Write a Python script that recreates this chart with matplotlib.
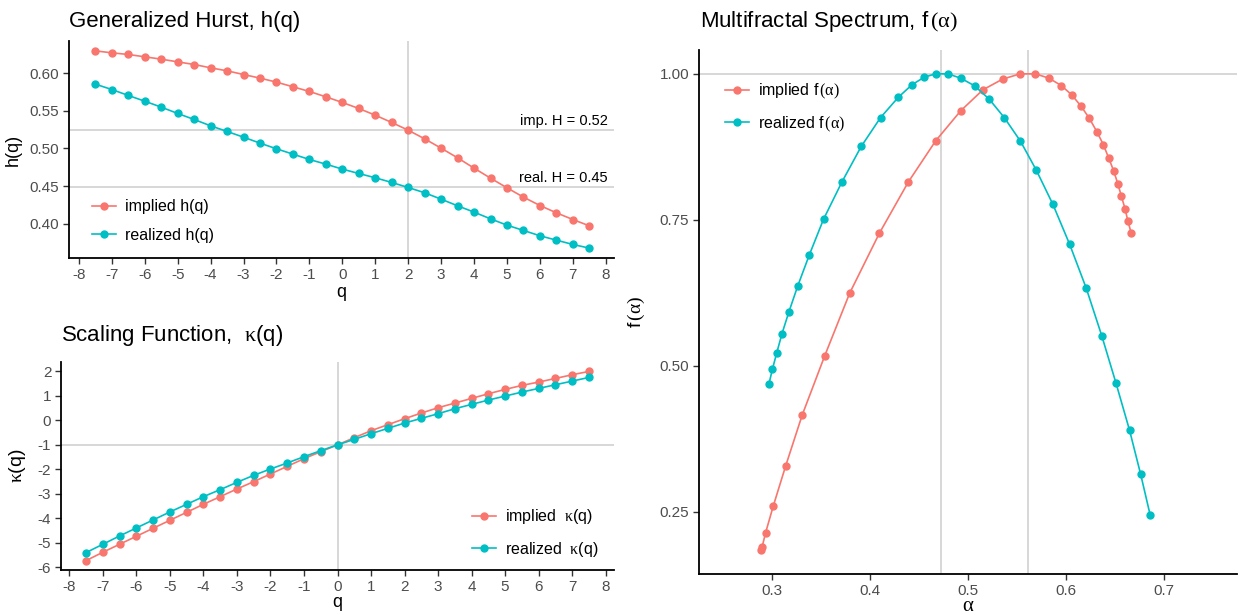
import numpy as np
import matplotlib
matplotlib.use("Agg")
import matplotlib.pyplot as plt

plt.rcParams['font.family'] = ['Liberation Sans', 'DejaVu Sans']
plt.rcParams['axes.unicode_minus'] = False
# upright serif Greek, like R plotmath's symbol font
plt.rcParams['mathtext.fontset'] = 'custom'
plt.rcParams['mathtext.rm'] = 'Liberation Serif'
plt.rcParams['mathtext.it'] = 'Liberation Serif'
plt.rcParams['mathtext.bf'] = 'Liberation Serif:bold'

# q grid shared by h(q) and kappa(q)
q = [-7.5, -7, -6.5, -6, -5.5, -5, -4.5, -4, -3.5, -3, -2.5, -2, -1.5, -1, -0.5,
     0, 0.5, 1, 1.5, 2, 2.5, 3, 3.5, 4, 4.5, 5, 5.5, 6, 6.5, 7, 7.5]

h_implied = [0.6296, 0.6270, 0.6248, 0.6217, 0.6186, 0.6150, 0.6115, 0.6071, 0.6031,
             0.5982, 0.5934, 0.5881, 0.5819, 0.5757, 0.5686, 0.5611, 0.5531, 0.5442,
             0.5345, 0.5243, 0.5128, 0.5004, 0.4876, 0.4739, 0.4606, 0.4478, 0.4354,
             0.4243, 0.4146, 0.4057, 0.3973]
h_realized = [0.5854, 0.5783, 0.5704, 0.5628, 0.5549, 0.5465, 0.5385, 0.5301, 0.5226,
              0.5150, 0.5071, 0.4996, 0.4925, 0.4854, 0.4792, 0.4726, 0.4668, 0.4611,
              0.4549, 0.4482, 0.4412, 0.4327, 0.4239, 0.4155, 0.4066, 0.3982, 0.3912,
              0.3841, 0.3783, 0.3726, 0.3677]

k_implied = [-5.728, -5.388, -5.061, -4.735, -4.408, -4.082, -3.755, -3.429, -3.116,
             -2.803, -2.503, -2.190, -1.878, -1.565, -1.279, -1.0, -0.707, -0.422,
             -0.177, 0.068, 0.299, 0.517, 0.707, 0.898, 1.088, 1.265, 1.429, 1.565,
             1.714, 1.864, 2.0]
k_realized = [-5.401, -5.061, -4.721, -4.395, -4.068, -3.741, -3.429, -3.116, -2.830,
              -2.531, -2.245, -1.986, -1.741, -1.483, -1.238, -1.0, -0.776, -0.544,
              -0.327, -0.109, 0.082, 0.272, 0.476, 0.653, 0.830, 0.993, 1.156, 1.306,
              1.456, 1.605, 1.755]

# multifractal spectrum (sorted by alpha)
a_implied = [0.2887, 0.2895, 0.2931, 0.3008, 0.3134, 0.3304, 0.3534, 0.3789, 0.4093,
             0.4389, 0.4668, 0.4923, 0.5150, 0.5352, 0.5532, 0.5686, 0.5825, 0.5950,
             0.6058, 0.6153, 0.6238, 0.6314, 0.6380, 0.6435, 0.6485, 0.6528, 0.6565,
             0.6602, 0.6630, 0.6664]
f_implied = [0.1845, 0.1902, 0.2147, 0.2597, 0.3280, 0.4157, 0.5171, 0.6244, 0.7272,
             0.8150, 0.8853, 0.9366, 0.9726, 0.9910, 1.0, 1.0, 0.9926, 0.9800,
             0.9640, 0.9446, 0.9237, 0.9011, 0.8790, 0.8561, 0.8343, 0.8121, 0.7905,
             0.7692, 0.7489, 0.7282]
a_realized = [0.2964, 0.3000, 0.3045, 0.3097, 0.3168, 0.3259, 0.3377, 0.3522, 0.3709,
              0.3907, 0.4105, 0.4287, 0.4425, 0.4551, 0.4668, 0.4793, 0.4923, 0.5065,
              0.5215, 0.5368, 0.5534, 0.5696, 0.5866, 0.6036, 0.6206, 0.6364, 0.6510,
              0.6648, 0.6761, 0.6858]
f_realized = [0.4687, 0.4943, 0.5228, 0.5547, 0.5923, 0.6370, 0.6900, 0.7510, 0.8145,
              0.8756, 0.9252, 0.9600, 0.9812, 0.9943, 1.0, 1.0, 0.9926, 0.9795,
              0.9566, 0.9252, 0.8847, 0.8350, 0.7763, 0.7083, 0.6330, 0.5518, 0.4704,
              0.3900, 0.3150, 0.2454]

RED = '#F8766D'
CYAN = '#00BFC4'
REF = '#D4D4D4'
TICK_COL = '#4D4D4D'

W, H = 1238, 615
fig = plt.figure(figsize=(W / 100, H / 100), dpi=100)


def px_axes(x0, y0, x1, y1):
    return fig.add_axes([x0 / W, 1 - y1 / H, (x1 - x0) / W, (y1 - y0) / H])


def style(ax):
    for s in ['top', 'right']:
        ax.spines[s].set_visible(False)
    for s in ['left', 'bottom']:
        ax.spines[s].set_linewidth(1.3)
        ax.spines[s].set_color('black')
    ax.tick_params(axis='both', labelsize=11, labelcolor=TICK_COL, color='#333333',
                   length=4, width=1, pad=3)


def series(ax, x, y, color, label):
    ax.plot(x, y, color=color, lw=1.2, marker='o', ms=5.0, mec=color, mfc=color,
            label=label, zorder=3)


def legend(ax, anchor):
    ax.legend(loc='center left', bbox_to_anchor=anchor, frameon=False, fontsize=11.5,
              borderpad=0, borderaxespad=0, handlelength=1.5, handletextpad=0.6,
              labelspacing=0.85)


# --- Generalized Hurst ---
ax1 = px_axes(69, 41, 614, 258)
style(ax1)
ax1.axvline(2, color=REF, lw=1.3, zorder=1)
H_imp = h_implied[q.index(2)]
H_real = h_realized[q.index(2)]
ax1.axhline(H_imp, color=REF, lw=1.3, zorder=1)
ax1.axhline(H_real, color=REF, lw=1.3, zorder=1)
series(ax1, q, h_implied, RED, 'implied h(q)')
series(ax1, q, h_realized, CYAN, 'realized h(q)')
ax1.text(0.989, H_imp + 0.003, f'imp. H = {H_imp:.2f}', transform=ax1.get_yaxis_transform(),
         ha='right', va='bottom', fontsize=10.5)
ax1.text(0.989, H_real + 0.003, f'real. H = {H_real:.2f}', transform=ax1.get_yaxis_transform(),
         ha='right', va='bottom', fontsize=10.5)
ax1.set_xlim(-8.3, 8.25)
ax1.set_ylim(0.3546, 0.6427)
ax1.set_xticks(range(-8, 9))
ax1.set_yticks([0.40, 0.45, 0.50, 0.55, 0.60])
ax1.set_yticklabels(['0.40', '0.45', '0.50', '0.55', '0.60'])
ax1.set_xlabel('q', fontsize=13, labelpad=2)
ax1.set_ylabel('h(q)', fontsize=13, labelpad=6)
legend(ax1, (0.042, 0.171))
fig.text(69 / W, 1 - 21 / H, 'Generalized Hurst, h(q)', fontsize=16, va='center', ha='left')

# --- Scaling function ---
ax2 = px_axes(61, 362, 614, 570)
style(ax2)
ax2.axvline(0, color=REF, lw=1.3, zorder=1)
ax2.axhline(-1, color=REF, lw=1.3, zorder=1)
series(ax2, q, k_implied, RED, r'implied  $\kappa$(q)')
series(ax2, q, k_realized, CYAN, r'realized  $\kappa$(q)')
ax2.set_xlim(-8.25, 8.25)
ax2.set_ylim(-6.114, 2.386)
ax2.set_xticks(range(-8, 9))
ax2.set_yticks(range(-6, 3))
ax2.set_xlabel('q', fontsize=13, labelpad=0)
ax2.set_ylabel(r'$\kappa$(q)', fontsize=14, labelpad=7)
legend(ax2, (0.743, 0.177))
fig.text(61 / W, 1 - 335 / H, r'Scaling Function,  $\kappa$(q)', fontsize=16, va='center', ha='left')

# --- Multifractal spectrum ---
ax3 = px_axes(699, 50, 1237, 574)
style(ax3)
ax3.axvline(h_realized[q.index(0)], color=REF, lw=1.3, zorder=1)
ax3.axvline(h_implied[q.index(0)], color=REF, lw=1.3, zorder=1)
ax3.axhline(1.0, color=REF, lw=1.3, zorder=1)
series(ax3, a_implied, f_implied, RED, r'implied f$\,(\alpha)$')
series(ax3, a_realized, f_realized, CYAN, r'realized f$\,(\alpha)$')
ax3.set_xlim(0.225, 0.7746)
ax3.set_ylim(0.1437, 1.0408)
ax3.set_xticks([0.3, 0.4, 0.5, 0.6, 0.7])
ax3.set_xticklabels(['0.3', '0.4', '0.5', '0.6', '0.7'])
ax3.set_yticks([0.25, 0.50, 0.75, 1.00])
ax3.set_yticklabels(['0.25', '0.50', '0.75', '1.00'])
ax3.set_xlabel(r'$\alpha$', fontsize=15, labelpad=-1)
ax3.set_ylabel(r'f$\,(\alpha)$', fontsize=14, labelpad=9)
legend(ax3, (0.048, 0.89))
fig.text(700 / W, 1 - 21 / H, r'Multifractal Spectrum, f$\,(\alpha)$', fontsize=16,
         va='center', ha='left')

fig.savefig('out.png', dpi=100)
